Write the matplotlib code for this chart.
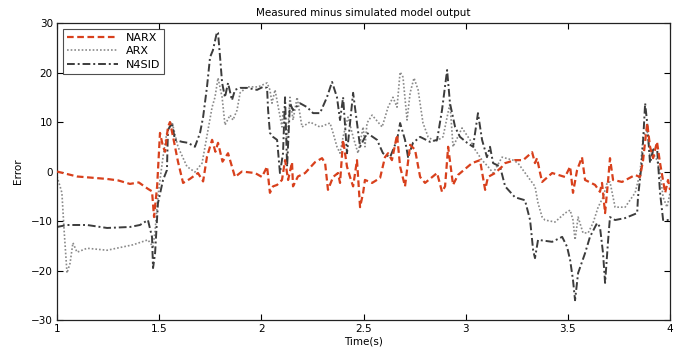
import matplotlib
matplotlib.use("Agg")
import matplotlib.pyplot as plt

# ── data ──
narx_t = [1.000, 1.098, 1.245, 1.300, 1.357, 1.400, 1.445, 1.465, 1.475, 1.490,
          1.504, 1.519, 1.529, 1.543, 1.553, 1.568, 1.592, 1.617, 1.650, 1.690,
          1.715, 1.734, 1.759, 1.775, 1.788, 1.810, 1.837, 1.871, 1.905, 1.969,
          2.003, 2.028, 2.042, 2.057, 2.077, 2.101, 2.116, 2.131, 2.150, 2.155,
          2.179, 2.214, 2.263, 2.297, 2.312, 2.326, 2.351, 2.375, 2.385, 2.400,
          2.419, 2.434, 2.449, 2.468, 2.483, 2.498, 2.507, 2.542, 2.581, 2.605,
          2.620, 2.639, 2.664, 2.679, 2.703, 2.728, 2.752, 2.777, 2.801, 2.860,
          2.884, 2.899, 2.914, 2.938, 2.962, 3.031, 3.070, 3.095, 3.109, 3.144,
          3.178, 3.193, 3.241, 3.281, 3.325, 3.339, 3.349, 3.364, 3.374, 3.423,
          3.486, 3.511, 3.525, 3.545, 3.569, 3.584, 3.633, 3.657, 3.667, 3.682,
          3.697, 3.706, 3.721, 3.765, 3.829, 3.853, 3.868, 3.888, 3.902, 3.917,
          3.936, 3.951, 3.976, 3.990, 4.000]
narx_err = [0, -1.0, -1.5, -1.8, -2.5, -2.2, -3.5, -4.0, -9.2, -3,
            7.8, 5, 4, 9, 10, 7, 2, -2.3, -1.5, -0.3,
            -2, 3, 6.4, 4, 5.8, 2, 3.7, -1.1, 0, -0.3,
            -1.1, 1, -4.3, -3, -2.7, -1.7, 2.3, -1.7, 1.9, -3,
            -1, -0.3, 1.9, 2.7, 1.7, -3.7, -1.1, -0.3, -2.3, 6.4,
            1, -1.1, -3, 2.3, -7.2, -4.3, -1.7, -2.3, -1.3, 2.9,
            3.7, 2.3, 7.4, 1, -3, 5.4, 4.4, -1.1, -2.3, -0.3,
            -4.1, -3, 5, -2.7, -0.7, 1.7, 2.3, -3.7, -1.1, -0.3,
            1, 1.7, 2.3, 2.3, 3.9, 1.7, 2.7, -0.3, -2.1, -0.3,
            -1.1, 1, -4.3, 0.3, 2.9, -1.7, -2.7, -4.1, -2.3, -8.4,
            -1.7, 2.7, -1.7, -2.1, -0.7, -1.1, 2.3, 9.8, 5, 2.7,
            6, 1.7, -4.3, -1.7, -3.7]

arx_t = [1.000, 1.015, 1.024, 1.035, 1.049, 1.064, 1.078, 1.098, 1.147, 1.245,
         1.372, 1.445, 1.470, 1.480, 1.494, 1.504, 1.519, 1.538, 1.563, 1.592,
         1.636, 1.675, 1.710, 1.739, 1.759, 1.773, 1.788, 1.808, 1.822, 1.847,
         1.861, 1.881, 1.896, 1.930, 1.984, 2.028, 2.042, 2.052, 2.067, 2.101,
         2.106, 2.126, 2.140, 2.155, 2.175, 2.199, 2.238, 2.287, 2.336, 2.351,
         2.370, 2.385, 2.400, 2.424, 2.449, 2.473, 2.498, 2.507, 2.517, 2.542,
         2.591, 2.620, 2.644, 2.664, 2.679, 2.693, 2.713, 2.728, 2.747, 2.767,
         2.791, 2.816, 2.850, 2.889, 2.923, 2.938, 2.982, 3.021, 3.046, 3.080,
         3.109, 3.134, 3.178, 3.232, 3.256, 3.305, 3.339, 3.354, 3.374, 3.388,
         3.437, 3.486, 3.511, 3.525, 3.535, 3.550, 3.574, 3.599, 3.623, 3.648,
         3.672, 3.692, 3.706, 3.731, 3.780, 3.829, 3.853, 3.868, 3.888, 3.902,
         3.917, 3.936, 3.951, 3.966, 3.985, 4.000]
arx_err = [-1, -3, -4.3, -12, -20.5, -18.5, -14.4, -16.3, -15.5, -15.9,
           -14.8, -13.8, -15.2, -12, -5, -1.7, 3, 8, 10, 5,
           1, -0.1, 1.7, 8.4, 13, 15, 18.9, 15, 9.4, 11.4,
           10.4, 12.4, 15.9, 17.1, 17.1, 17.9, 16.5, 13.8, 16.5, 9,
           12.4, 5.8, 15, 10.4, 15, 9, 10, 9, 9.8, 7.8,
           5, 3.7, 7, 11, 7, 3.7, 9, 5, 9.8, 11.4,
           9, 13, 15, 13, 20.1, 19.1, 10.4, 15.9, 18.9, 16.5,
           9.8, 7, 6, 7, 13.8, 5, 8.8, 6.4, 4.4, 2.3,
           1, -0.3, 2.9, 2.3, 1.7, -1.1, -3, -6.4, -9.2, -9.8,
           -10.2, -8.4, -7.8, -9.8, -13.8, -9.2, -12.4, -12.4, -10.4, -7.2,
           -5.2, -2.3, -2.1, -7.2, -7.2, -4.3, -0.3, 7, 8.4, 2.9,
           3.7, 2.3, -0.3, -5.2, -7.2, -4.3]

n4sid_t = [1.000, 1.049, 1.147, 1.245, 1.357, 1.406, 1.445, 1.465, 1.470, 1.480,
           1.494, 1.519, 1.538, 1.543, 1.563, 1.577, 1.612, 1.641, 1.675, 1.700,
           1.715, 1.734, 1.749, 1.763, 1.783, 1.788, 1.798, 1.808, 1.822, 1.837,
           1.856, 1.871, 1.896, 1.930, 1.979, 2.008, 2.028, 2.033, 2.042, 2.057,
           2.077, 2.091, 2.106, 2.116, 2.126, 2.140, 2.155, 2.189, 2.224, 2.253,
           2.287, 2.321, 2.346, 2.370, 2.385, 2.400, 2.419, 2.449, 2.483, 2.517,
           2.566, 2.595, 2.630, 2.664, 2.679, 2.703, 2.718, 2.742, 2.777, 2.825,
           2.860, 2.884, 2.909, 2.923, 2.948, 2.972, 3.007, 3.036, 3.060, 3.080,
           3.104, 3.119, 3.134, 3.168, 3.193, 3.241, 3.290, 3.315, 3.330, 3.339,
           3.354, 3.423, 3.472, 3.496, 3.511, 3.525, 3.535, 3.550, 3.584, 3.608,
           3.643, 3.657, 3.672, 3.682, 3.697, 3.706, 3.731, 3.780, 3.839, 3.843,
           3.863, 3.878, 3.888, 3.902, 3.917, 3.936, 3.951, 3.966, 4.000]
n4sid_err = [-11.2, -10.8, -10.8, -11.4, -11.2, -10.8, -9.8, -13.2, -19.5, -16.5,
             -6.4, -1.7, 0.3, 8.4, 9.8, 6.4, 6, 5.8, 5, 7.8,
             11, 17.1, 23.1, 24.5, 28.2, 28, 23.1, 17.9, 15, 17.9,
             14.4, 16.5, 16.9, 16.9, 16.5, 17.1, 16.9, 12.4, 7.8, 7,
             6.4, -0.3, 3.7, 15, 1, 13.8, 12.4, 13.8, 13, 11.8,
             11.8, 15, 18.1, 15, 10.4, 15, 3.7, 15.9, 5, 7.8,
             6.4, 3.7, 2.9, 6.4, 9.8, 6.4, 2.9, 5.8, 7, 6,
             6.4, 12.4, 20.5, 13.8, 9, 7, 5.8, 5, 11.8, 6.4,
             2.9, 5, 1.7, 1, -3, -5.2, -5.8, -9.8, -15.9, -17.5,
             -13.8, -14.2, -13.2, -15.2, -17.9, -21.9, -26, -20.5, -16.5, -13.2,
             -10.4, -11.2, -16.5, -22.5, -13.8, -9.2, -9.8, -9.4, -8.4, -5.2,
             2.3, 13.8, 9.8, 1.7, 4.4, 5, -4.3, -9.8, -9.8]

x_ticks = [1, 1.5, 2, 2.5, 3, 3.5, 4]
x_tick_labels = ["1", "1.5", "2", "2.5", "3", "3.5", "4"]
y_ticks = [-30, -20, -10, 0, 10, 20, 30]

plt.rcParams["font.family"] = ["DejaVu Sans"]

fig = plt.figure(figsize=(6.85, 3.49), dpi=100)
ax = fig.add_axes([0.0832, 0.083, 0.895, 0.851])

ax.plot(narx_t, narx_err, color="#d8401c", linestyle=(0, (3.0, 1.6)),
        linewidth=1.6, label="NARX", zorder=3)
ax.plot(arx_t, arx_err, color="#8a8a8a", linestyle=(0, (1, 1.2)),
        linewidth=1.2, label="ARX", zorder=2)
ax.plot(n4sid_t, n4sid_err, color="#3c3c3c", linestyle=(0, (4, 1.5, 1, 1.5)),
        linewidth=1.4, label="N4SID", zorder=2)

ax.set_xlim(1, 4)
ax.set_ylim(-30, 30)
ax.set_xticks(x_ticks)
ax.set_xticklabels(x_tick_labels)
ax.set_yticks(y_ticks)
ax.tick_params(direction="in", length=4, width=0.8, labelsize=7.5,
               top=True, right=True, pad=3)
for s in ax.spines.values():
    s.set_linewidth(0.9)
    s.set_color("#222222")

ax.set_title("Measured minus simulated model output", fontsize=7.5, pad=5)
ax.set_xlabel("Time(s)", fontsize=7.5, labelpad=2)
ax.set_ylabel("Error", fontsize=7.5, labelpad=6)

leg = ax.legend(loc="upper left", fontsize=8, frameon=True, fancybox=False,
                handlelength=4.6, borderaxespad=0.55, borderpad=0.35,
                labelspacing=0.3, handletextpad=0.7)
leg.get_frame().set_edgecolor("#222222")
leg.get_frame().set_linewidth(0.8)

fig.savefig("out.png", dpi=100)
